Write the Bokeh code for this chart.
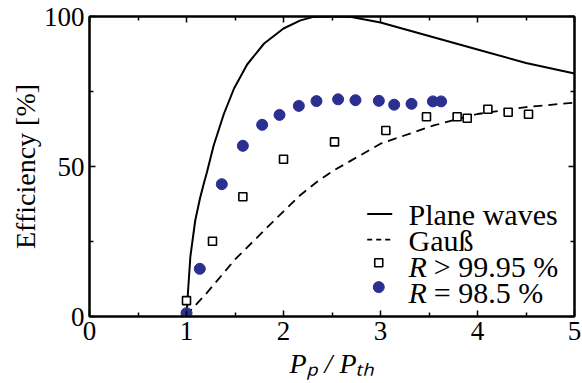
from bokeh.plotting import figure
from bokeh.models import Range1d, LinearAxis, Label, FixedTicker, CustomJSTickFormatter
from bokeh.embed import file_html
from bokeh.resources import INLINE

# Plane-wave model curve
plane_x = [1.0, 1.015, 1.04, 1.09, 1.14, 1.18, 1.21, 1.28, 1.385, 1.49, 1.625, 1.8,
           2.0, 2.175, 2.3, 2.5, 2.7, 3.0, 3.5, 4.0, 4.5, 5.0]
plane_y = [0, 8, 20, 32, 39.5, 44.5, 48, 57, 67.5, 76, 84, 91,
           96, 98.7, 99.8, 100, 99.8, 98, 93.5, 89, 84.5, 81]

# Gaussian model curve
gauss_x = [1.0, 1.05, 1.2, 1.5, 1.935, 2.175, 2.35, 2.52, 3.0, 3.55, 4.0, 4.5, 5.0]
gauss_y = [0, 2.3, 7.5, 19, 33, 40.5, 45, 48.7, 57.6, 63.7, 67.5, 69.8, 71.3]

# Measurements R > 99.95 %
hr_x = [1.0, 1.268, 1.581, 2.0, 2.526, 3.055, 3.474, 3.79, 3.894, 4.107, 4.316, 4.526]
hr_y = [5.3, 25.1, 39.9, 52.4, 58.2, 62.0, 66.6, 66.6, 66.1, 69.1, 68.1, 67.4]

# Measurements R = 98.5 %
lr_x = [1.0, 1.137, 1.364, 1.581, 1.78, 1.959, 2.158, 2.34, 2.563, 2.742, 2.983,
        3.141, 3.32, 3.54, 3.625]
lr_y = [1.1, 15.9, 44.1, 56.9, 63.9, 67.2, 70.2, 71.8, 72.4, 72.1, 71.9,
        70.6, 70.9, 71.7, 71.7]

x_ticks = [0, 1, 2, 3, 4, 5]
y_ticks = [0, 50, 100]
x_minor = [0.5, 1.5, 2.5, 3.5, 4.5]
y_minor = [25, 75]

FONT = "Liberation Serif"
BLUE = "#2b2f8f"

p = figure(width=582, height=383, output_backend="svg", toolbar_location=None,
           x_range=Range1d(0, 5), y_range=Range1d(0, 100),
           min_border_left=89, min_border_right=8, min_border_top=16, min_border_bottom=67)
p.grid.visible = False
p.outline_line_color = "black"
p.outline_line_width = 2
p.background_fill_color = "white"
p.border_fill_color = "white"

bottom = p.below[0]
left = p.left[0]

def style_axis(ax, ticks, minor, labels=True):
    ax.ticker = FixedTicker(ticks=ticks, minor_ticks=minor)
    ax.axis_line_width = 2
    ax.axis_line_color = "black"
    ax.major_tick_in = 6
    ax.major_tick_out = 0
    ax.minor_tick_in = 4
    ax.minor_tick_out = 0
    ax.major_tick_line_width = 1.5
    ax.minor_tick_line_width = 1.5
    ax.major_tick_line_color = "black"
    ax.minor_tick_line_color = "black"
    ax.major_label_text_font = FONT
    ax.major_label_text_font_size = "27px"
    ax.major_label_text_color = "black"
    ax.major_label_standoff = 5
    if not labels:
        ax.formatter = CustomJSTickFormatter(code="return ''")
        ax.major_label_standoff = 0

style_axis(bottom, x_ticks, x_minor)
style_axis(left, y_ticks, y_minor)
top = LinearAxis()
right = LinearAxis()
style_axis(top, x_ticks, x_minor, labels=False)
style_axis(right, y_ticks, y_minor, labels=False)
p.add_layout(top, "above")
p.add_layout(right, "right")

left.axis_label = "Efficiency [%]"
left.axis_label_text_font = FONT
left.axis_label_text_font_size = "28px"
left.axis_label_text_font_style = "normal"
left.axis_label_text_color = "black"
left.axis_label_standoff = 0

bottom.axis_label = "P\u209a / P\u209c\u2095"
bottom.axis_label_text_font = FONT
bottom.axis_label_text_font_size = "28px"
bottom.axis_label_text_font_style = "italic"
bottom.axis_label_text_color = "black"
bottom.axis_label_standoff = 5

# curves
p.line(plane_x, plane_y, line_color="black", line_width=2)
p.line(gauss_x, gauss_y, line_color="black", line_width=1.8, line_dash="9 6")

# points
p.scatter(hr_x, hr_y, marker="square", size=8, fill_color="white",
          line_color="black", line_width=1.6)
p.scatter(lr_x, lr_y, marker="circle", size=11, fill_color=BLUE, line_color=BLUE)

# manual legend
leg_x0, leg_x1, leg_xm = 2.863, 3.121, 2.982
p.line([leg_x0, leg_x1], [34.2, 34.2], line_color="black", line_width=2)
p.line([leg_x0, leg_x1], [25.6, 25.6], line_color="black", line_width=1.8, line_dash="5 4")
p.scatter([leg_xm], [17.9], marker="square", size=8, fill_color="white",
          line_color="black", line_width=1.6)
p.scatter([leg_xm], [9.8], marker="circle", size=11, fill_color=BLUE, line_color=BLUE)

def lab(x, y, t, size="30px", style="normal"):
    p.add_layout(Label(x=x, y=y, text=t, text_font=FONT, text_font_size=size,
                       text_font_style=style, text_align="left", text_baseline="alphabetic",
                       text_color="black"))

tx = 3.289
lab(tx, 34.0, "Plane waves")
lab(tx, 25.4, "Gauß")
lab(tx, 16.6, "R", style="italic")
lab(tx + 0.26, 16.6, "> 99.95 %")
lab(tx, 7.9, "R", style="italic")
lab(tx + 0.26, 7.9, "= 98.5 %")

open("out.html", "w").write(file_html(p, INLINE))
